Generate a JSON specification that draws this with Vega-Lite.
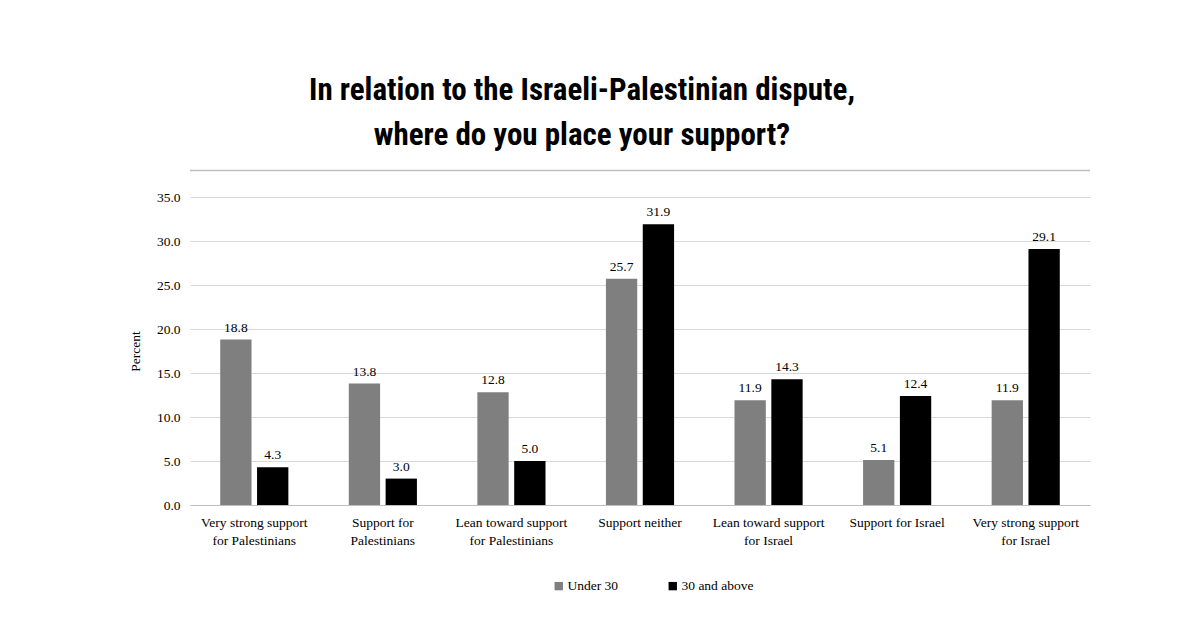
{
  "$schema": "https://vega.github.io/schema/vega-lite/v6.json",
  "autosize": {"type": "none"},
  "padding": {"left": 190, "top": 197, "right": 110, "bottom": 117},
  "width": 900,
  "height": 308,
  "background": "white",
  "title": {
    "text": ["In relation to the Israeli-Palestinian dispute,", "where do you place your support?"],
    "font": "Liberation Sans Narrow, Roboto Condensed, Liberation Sans",
    "fontSize": 31,
    "fontWeight": "bold",
    "color": "#000000",
    "anchor": "middle",
    "dx": -58,
    "lineHeight": 45,
    "offset": 18
  },
  "data": {
    "values": [
      {"support": "Very strong support\nfor Palestinians", "age": "Under 30", "pct": 18.8},
      {"support": "Very strong support\nfor Palestinians", "age": "30 and above", "pct": 4.3},
      {"support": "Support for\nPalestinians", "age": "Under 30", "pct": 13.8},
      {"support": "Support for\nPalestinians", "age": "30 and above", "pct": 3.0},
      {"support": "Lean toward support\nfor Palestinians", "age": "Under 30", "pct": 12.8},
      {"support": "Lean toward support\nfor Palestinians", "age": "30 and above", "pct": 5.0},
      {"support": "Support neither", "age": "Under 30", "pct": 25.7},
      {"support": "Support neither", "age": "30 and above", "pct": 31.9},
      {"support": "Lean toward support\nfor Israel", "age": "Under 30", "pct": 11.9},
      {"support": "Lean toward support\nfor Israel", "age": "30 and above", "pct": 14.3},
      {"support": "Support for Israel", "age": "Under 30", "pct": 5.1},
      {"support": "Support for Israel", "age": "30 and above", "pct": 12.4},
      {"support": "Very strong support\nfor Israel", "age": "Under 30", "pct": 11.9},
      {"support": "Very strong support\nfor Israel", "age": "30 and above", "pct": 29.1}
    ]
  },
  "encoding": {
    "x": {
      "field": "support",
      "type": "nominal",
      "sort": null,
      "title": null,
      "scale": {"paddingInner": 0.47, "paddingOuter": 0.235},
      "axis": {
        "labelAngle": 0,
        "labelExpr": "split(datum.label, '\\n')",
        "labelFont": "Liberation Serif",
        "labelFontSize": 13.5,
        "labelColor": "#000000",
        "labelLineHeight": 18,
        "labelPadding": 10,
        "ticks": false,
        "domainColor": "#bfbfbf",
        "labelBaseline": "top"
      }
    },
    "xOffset": {
      "field": "age",
      "type": "nominal",
      "sort": ["Under 30", "30 and above"],
      "scale": {"paddingInner": 0.15}
    }
  },
  "layer": [
    {
      "mark": {"type": "bar"},
      "encoding": {
        "y": {
          "field": "pct",
          "type": "quantitative",
          "title": "Percent",
          "scale": {"domain": [0, 35]},
          "axis": {
            "values": [0, 5, 10, 15, 20, 25, 30, 35],
            "format": ".1f",
            "labelFont": "Liberation Serif",
            "labelFontSize": 13.5,
            "labelColor": "#000000",
            "labelPadding": 10,
            "titleFont": "Liberation Serif",
            "titleFontSize": 13.5,
            "titleFontWeight": "normal",
            "titleColor": "#000000",
            "titlePadding": 14,
            "ticks": false,
            "domain": false,
            "gridColor": "#d9d9d9"
          }
        },
        "color": {
          "field": "age",
          "type": "nominal",
          "sort": ["Under 30", "30 and above"],
          "scale": {"domain": ["Under 30", "30 and above"], "range": ["#7f7f7f", "#000000"]},
          "legend": {
            "title": null,
            "orient": "none",
            "direction": "horizontal",
            "legendX": 362,
            "legendY": 382,
            "symbolType": "square",
            "symbolSize": 70,
            "symbolStrokeWidth": 0,
            "labelFont": "Liberation Serif",
            "labelFontSize": 13.5,
            "labelColor": "#000000",
            "labelOffset": 2,
            "columnPadding": 47
          }
        }
      }
    },
    {
      "mark": {"type": "text", "baseline": "bottom", "dy": -5, "font": "Liberation Serif", "fontSize": 13.5, "color": "#000000"},
      "encoding": {
        "y": {"field": "pct", "type": "quantitative"},
        "text": {"field": "pct", "type": "quantitative", "format": ".1f"}
      }
    },
    {
      "data": {"values": [{"line": 38}]},
      "mark": {"type": "rule", "color": "#bfbfbf", "strokeWidth": 1.5},
      "encoding": {
        "y": {"field": "line", "type": "quantitative"},
        "x": null,
        "xOffset": null
      }
    }
  ],
  "config": {
    "view": {"stroke": null}
  }
}
